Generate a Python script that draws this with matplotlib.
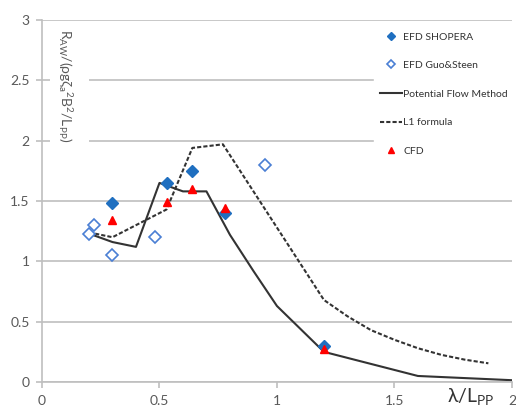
import matplotlib
matplotlib.use("Agg")
import matplotlib.pyplot as plt
from matplotlib.patches import Rectangle

plt.rcParams['font.family'] = ['Lato', 'DejaVu Sans']
plt.rcParams['mathtext.fontset'] = 'custom'
plt.rcParams['mathtext.rm'] = 'Lato'
plt.rcParams['mathtext.default'] = 'regular'

# experimental / numerical points
shopera_x = [0.30, 0.53, 0.64, 0.78, 1.20]
shopera_y = [1.48, 1.65, 1.75, 1.40, 0.30]

guo_x = [0.20, 0.22, 0.30, 0.48, 0.95]
guo_y = [1.23, 1.30, 1.05, 1.20, 1.80]

cfd_x = [0.30, 0.53, 0.64, 0.78, 1.20]
cfd_y = [1.34, 1.49, 1.60, 1.44, 0.27]

# potential flow method curve
pfm_x = [0.20, 0.30, 0.40, 0.50, 0.60, 0.70, 0.80, 0.90, 1.00, 1.20, 1.60, 2.00]
pfm_y = [1.23, 1.16, 1.12, 1.65, 1.58, 1.58, 1.22, 0.92, 0.63, 0.25, 0.05, 0.015]

# L1 formula curve
l1_x = [0.20, 0.30, 0.53, 0.64, 0.77, 1.20, 1.30, 1.40, 1.50, 1.60, 1.70, 1.80, 1.90]
l1_y = [1.24, 1.20, 1.43, 1.94, 1.97, 0.68, 0.545, 0.43, 0.35, 0.28, 0.225, 0.185, 0.155]

xticks = [0, 0.5, 1, 1.5, 2]
xticklabels = ['0', '0.5', '1', '1.5', '2']
yticks = [0, 0.5, 1, 1.5, 2, 2.5, 3]
yticklabels = ['0', '0.5', '1', '1.5', '2', '2.5', '3']

grey = '#bfbfbf'
text_col = '#595959'
line_col = '#333333'

fig = plt.figure(figsize=(5.16, 4.09), dpi=100)
ax = fig.add_axes([0.0814, 0.066, 0.9106, 0.885])

ax.plot(pfm_x, pfm_y, color=line_col, lw=1.5, label='Potential Flow Method', zorder=2)
ax.plot(l1_x, l1_y, color=line_col, lw=1.5, ls=(0, (2, 1)), label='L1 formula', zorder=2)
ax.plot(shopera_x, shopera_y, ls='none', marker='D', ms=6.5, color='#1f6fc0',
        label='EFD SHOPERA', zorder=3)
ax.plot(guo_x, guo_y, ls='none', marker='D', ms=6.5, mfc='white', mec='#4a7fd4',
        mew=1.2, label='EFD Guo&Steen', zorder=3)
ax.plot(cfd_x, cfd_y, ls='none', marker='^', ms=6, color='#ff0000',
        label='CFD', zorder=4)

ax.set_xlim(0, 2)
ax.set_ylim(0, 3)
ax.set_xticks(xticks)
ax.set_xticklabels(xticklabels)
ax.set_yticks(yticks)
ax.set_yticklabels(yticklabels)
ax.set_axisbelow(True)
ax.grid(axis='y', color=grey, lw=1.2)
for s in ('top', 'right'):
    ax.spines[s].set_visible(False)
for s in ('left', 'bottom'):
    ax.spines[s].set_color(grey)
    ax.spines[s].set_linewidth(1.2)
ax.tick_params(axis='both', colors=grey, labelcolor=text_col, labelsize=10, length=4, width=1.2)
ax.tick_params(axis='x', pad=5)
ax.tick_params(axis='y', pad=5)

# white box behind the y label, interrupting the gridlines
ax.add_patch(Rectangle((0.017, 0.64), 0.083, 0.35, transform=ax.transAxes,
                       fc='white', ec='none', zorder=1))
ax.text(0.05, 0.975, r'R$_{AW}$/(ρgζ$_{a}$$^{2}$B$^{2}$/L$_{PP}$)', transform=ax.transAxes,
        rotation=-90, ha='center', va='top', fontsize=10, color=text_col, zorder=3)

fig.text(0.912, 0.004, r'λ/L$_{PP}$', fontsize=14, color='#333333', ha='center', va='bottom')

handles, labels = ax.get_legend_handles_labels()
order = [2, 3, 0, 1, 4]
leg = ax.legend([handles[i] for i in order], [labels[i] for i in order],
                loc='upper left', bbox_to_anchor=(0.696, 0.998), fontsize=7.5,
                frameon=True, fancybox=False, framealpha=1, edgecolor='white',
                facecolor='white', handlelength=2.1, handletextpad=0.1,
                labelspacing=1.85, markerscale=0.7, borderpad=0.6)
for t in leg.get_texts():
    t.set_color('#333333')

fig.savefig('out.png', dpi=100)
